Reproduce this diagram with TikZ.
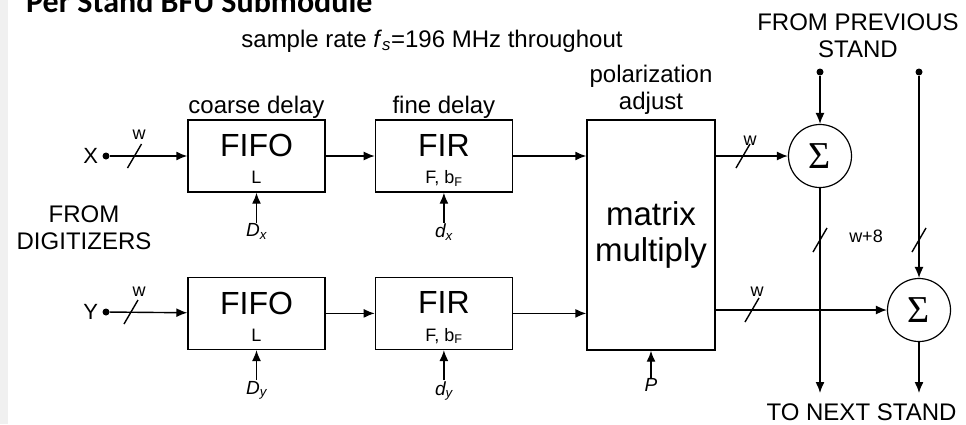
\documentclass[tikz,border=0pt]{standalone}
\usepackage{fontspec}
\setmainfont{Liberation Sans}
\newfontfamily\titlefont{Carlito}
\newfontfamily\sumfont{Liberation Serif}
\usetikzlibrary{arrows.meta,positioning,calc}
\tikzset{
  bfu/block/.style={draw, line width=1.4pt, minimum width=137pt, minimum height=72pt, inner sep=0pt, text depth=21pt, font=\fontsize{32}{34}\selectfont},
  bfu/mult/.style={draw, line width=1.4pt, minimum width=128pt, minimum height=230pt, inner sep=0pt, align=center, font=\fontsize{33}{36}\selectfont},
  bfu/blockparam/.style={anchor=base, inner sep=0pt, font=\fontsize{18}{20}\selectfont},
  bfu/sum/.style={draw, circle, line width=1.2pt, minimum size=63pt, inner sep=0pt, font=\fontsize{38}{40}\sumfont},
  bfu/line/.style={line width=1.4pt},
  bfu/arr/.style={bfu/line, -{Latex[length=11pt,width=9pt]}},
  bfu/dot/.style={circle, fill, inner sep=0pt, minimum size=7pt},
  bfu/text/.style={font=\fontsize{24}{27}\selectfont, inner sep=1pt, align=center},
  bfu/param/.style={font=\fontsize{19}{21}\selectfont\itshape, inner sep=1pt},
  bfu/bus/.style={font=\fontsize{18}{20}\selectfont, inner sep=0pt},
  busslash/.pic={\draw[bfu/line] (-7,12) -- (7,-12);}
}

\begin{document}
\begin{tikzpicture}[x=1pt, y=-1pt, node distance=49pt]
  \useasboundingbox (0,0) rectangle (966,424);
  \clip (0,0) rectangle (966,424);
  \fill[white] (0,0) rectangle (966,424);
  \fill[black!6] (0,0) rectangle (8,424);

  \node[font=\fontsize{32}{34}\titlefont\bfseries, anchor=base west, inner sep=0pt] (title) at (26,12) {Per Stand BFU Submodule};
  \node[bfu/text, anchor=base] (rate) at (432,47) {sample rate \textit{f}\textsubscript{\textit{s}}=196 MHz throughout};

  % delay and matrix blocks
  \node[bfu/block] (fifox) at (256.5,156) {FIFO};
  \node[bfu/block, right=of fifox] (firx) {FIR};
  \node[bfu/block, below=84pt of fifox] (fifoy) {FIFO};
  \node[bfu/block, right=of fifoy] (firy) {FIR};
  \node[bfu/blockparam] (lx) at ([yshift=9pt]fifox.south) {L};
  \node[bfu/blockparam] (fx) at ([yshift=9pt]firx.south) {F, b\textsubscript{F}};
  \node[bfu/blockparam] (ly) at ([yshift=9pt]fifoy.south) {L};
  \node[bfu/blockparam] (fy) at ([yshift=9pt]firy.south) {F, b\textsubscript{F}};
  \node[bfu/mult] (mat) at (651,235) {matrix\\multiply};
  \node[bfu/sum] (sumx) at (820,156) {Σ};
  \node[bfu/sum] (sumy) at (919,310) {Σ};

  \node[bfu/text, above=0pt of fifox] (coarse) {coarse delay};
  \node[bfu/text, above=0pt of firx] (fine) {fine delay};
  \node[bfu/text, above=4pt of mat] (pol) {polarization\\adjust};

  % inputs from digitizers
  \node[bfu/dot] (xin) at (106,156) {};
  \node[bfu/dot] (yin) at (106,312) {};
  \node[bfu/text, font=\fontsize{22}{24}\selectfont, left=3pt of xin] (xlab) {X};
  \node[bfu/text, font=\fontsize{22}{24}\selectfont, left=3pt of yin] (ylab) {Y};
  \node[bfu/text] (digit) at (84,228) {FROM\\DIGITIZERS};
  \draw[bfu/arr] (xin) -- (fifox);
  \draw[bfu/arr] (yin) -- (fifoy);

  % delay settings
  \node[bfu/param, below=30pt of fifox] (dcx) {D\textsubscript{x}};
  \node[bfu/param, below=30pt of firx] (dfx) {d\textsubscript{x}};
  \node[bfu/param, below=30pt of fifoy] (dcy) {D\textsubscript{y}};
  \node[bfu/param, below=30pt of firy] (dfy) {d\textsubscript{y}};
  \node[bfu/param, below=27pt of mat] (pmat) {P};
  \draw[bfu/arr] (dcx) -- (fifox);
  \draw[bfu/arr] (dfx) -- (firx);
  \draw[bfu/arr] (dcy) -- (fifoy);
  \draw[bfu/arr] (dfy) -- (firy);
  \draw[bfu/arr] (pmat) -- (mat);

  \draw[bfu/arr] (fifox) -- (firx);
  \draw[bfu/arr] (firx) -- (firx -| mat.west);
  \draw[bfu/arr] (fifoy) -- (firy);
  \draw[bfu/arr] (firy) -- (firy -| mat.west);
  \draw[bfu/arr] (mat.east |- sumx) -- (sumx);
  \draw[bfu/arr] (mat.east |- sumy) -- (sumy);

  % stand chain
  \node[bfu/dot] (prevx) at (820,72) {};
  \node[bfu/dot] (prevy) at (919,72) {};
  \coordinate (nextx) at (820,393);
  \coordinate (nexty) at (919,393);
  \node[bfu/text] (prev) at (858,36) {FROM PREVIOUS\\STAND};
  \node[bfu/text] (next) at (861.5,412) {TO NEXT STAND};
  \draw[bfu/arr] (prevx) -- (sumx);
  \draw[bfu/arr] (sumx) -- (nextx);
  \draw[bfu/arr] (prevy) -- (sumy);
  \draw[bfu/arr] (sumy) -- (nexty);

  % bus widths
  \pic at (134.5,156) {busslash};
  \pic at (131,312) {busslash};
  \pic at (743,156) {busslash};
  \pic at (752,310) {busslash};
  \pic at (820,240) {busslash};
  \pic at (919,240) {busslash};
  \node[bfu/bus] (wx) at (139,135) {w};
  \node[bfu/bus] (wy) at (139,292) {w};
  \node[bfu/bus] (wmx) at (750,141) {w};
  \node[bfu/bus] (wmy) at (757,292) {w};
  \node[bfu/bus] (wsum) at (866,236) {w+8};
\end{tikzpicture}
\end{document}
